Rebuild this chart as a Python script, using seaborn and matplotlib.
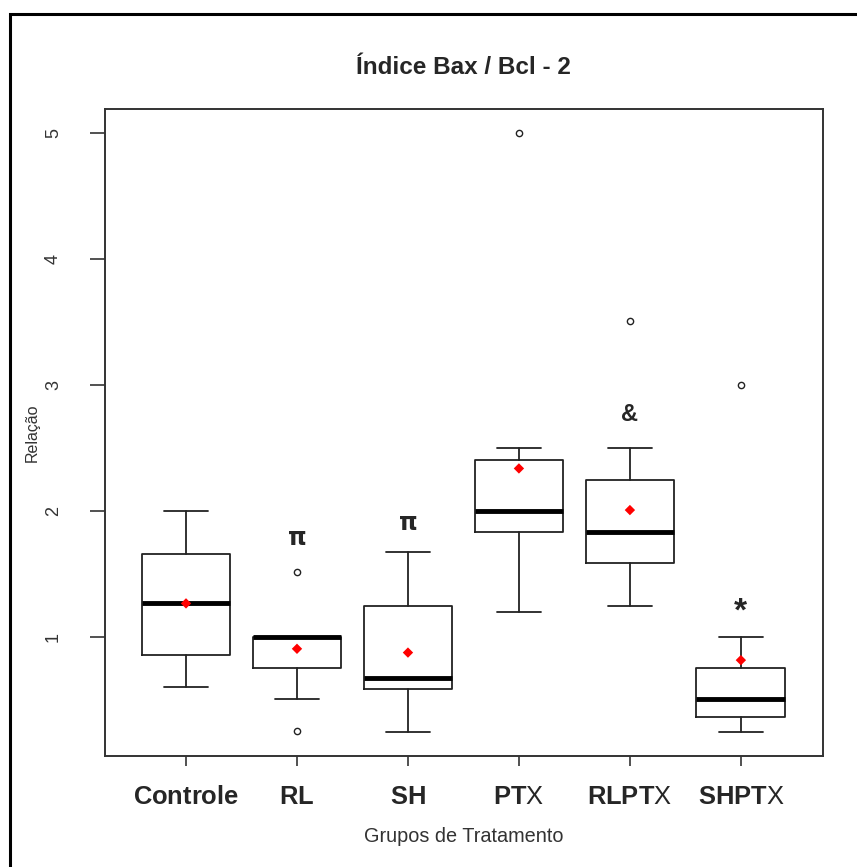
import matplotlib
matplotlib.use("Agg")
import matplotlib.pyplot as plt
import seaborn as sns
import pandas as pd
from matplotlib.patches import Rectangle

# ---- data ----
groups = ["Controle", "RL", "SH", "PTX", "RLPTX", "SHPTX"]
whisker_low = [0.61, 0.51, 0.25, 1.20, 1.25, 0.25]
q1 = [0.86, 0.76, 0.59, 1.84, 1.59, 0.37]
median = [1.27, 1.00, 0.68, 2.00, 1.84, 0.51]
q3 = [1.66, 1.00, 1.25, 2.41, 2.25, 0.76]
whisker_high = [2.00, 1.00, 1.68, 2.50, 2.50, 1.00]
means = [1.27, 0.91, 0.88, 2.34, 2.01, 0.82]
outliers = [[], [1.52, 0.26], [], [5.0], [3.51], [3.0]]
sig_labels = ["", "π", "π", "", "&", "*"]
sig_y = [None, 1.79, 1.91, None, 2.77, 1.20]

sns.set_theme(style="white")
FONT = "Liberation Sans"
plt.rcParams["font.family"] = [FONT, "DejaVu Sans"]
plt.rcParams["mathtext.fontset"] = "custom"
plt.rcParams["mathtext.rm"] = FONT
plt.rcParams["mathtext.bf"] = FONT + ":bold"

tick_labels = [r"$\mathbf{Controle}$", r"$\mathbf{RL}$", r"$\mathbf{SH}$",
               r"$\mathbf{PT}\mathrm{X}$", r"$\mathbf{RLPT}\mathrm{X}$", r"$\mathbf{SHPT}\mathrm{X}$"]

fig = plt.figure(figsize=(8.57, 8.67), dpi=100)
ax = fig.add_axes([105 / 857, 1 - 756 / 867, 718 / 857, 647 / 867])

positions = list(range(1, len(groups) + 1))
stats = []
for i, g in enumerate(groups):
    stats.append(dict(label=g, whislo=whisker_low[i], q1=q1[i], med=median[i],
                      q3=q3[i], whishi=whisker_high[i], fliers=outliers[i], mean=means[i]))

ax.bxp(stats, positions=positions, widths=0.8, showmeans=False, patch_artist=False,
       boxprops=dict(color="#222222", linewidth=1.3),
       whiskerprops=dict(color="#222222", linewidth=1.3),
       capprops=dict(color="#222222", linewidth=1.3),
       medianprops=dict(color="black", linewidth=3.5, solid_capstyle="butt"),
       flierprops=dict(marker="o", markersize=4.5, markerfacecolor="white",
                       markeredgecolor="#222222", markeredgewidth=1.0))

mean_df = pd.DataFrame({"pos": positions, "mean": means})
sns.scatterplot(data=mean_df, x="pos", y="mean", ax=ax, color="red", marker="D",
                s=28, edgecolor="none", zorder=5, legend=False)

for p, lab, yy in zip(positions, sig_labels, sig_y):
    if lab:
        fs = 24 if lab == "*" else 17
        ax.text(p, yy, lab, ha="center", va="center", fontsize=fs, fontweight="bold",
                family=["DejaVu Sans"] if lab == "π" else [FONT, "DejaVu Sans"])

ax.set_xlim(0.27, 6.74)
ax.set_ylim(0.06, 5.19)
ax.set_xticks(positions)
ax.set_xticklabels(tick_labels, fontsize=18.4)
ax.set_yticks([1, 2, 3, 4, 5])
ax.set_yticklabels(["1", "2", "3", "4", "5"], rotation=90, va="center", fontsize=13, color="#333333")
ax.tick_params(axis="y", length=11, width=1.2, color="#333333", pad=20, left=True)
ax.tick_params(axis="x", length=7, width=1.2, color="#333333", pad=14, bottom=True)
ax.set_xlabel("Grupos de Tratamento", fontsize=14.3, color="#333333", labelpad=13)
ax.set_ylabel("Relação", fontsize=11.5, color="#333333", labelpad=4)
for s in ax.spines.values():
    s.set_color("#333333")
    s.set_linewidth(1.4)
    s.set_visible(True)
ax.set_facecolor("white")

fig.text(463 / 857, 1 - 68 / 867, "Índice Bax / Bcl - 2", ha="center", va="center",
         fontsize=17.5, fontweight="bold")

fig.patches.append(Rectangle((10 / 857, -0.2), 1.2, 1.2 - 14 / 867, transform=fig.transFigure,
                             fill=False, edgecolor="black", linewidth=2.2))

fig.savefig("out.png", dpi=100)
